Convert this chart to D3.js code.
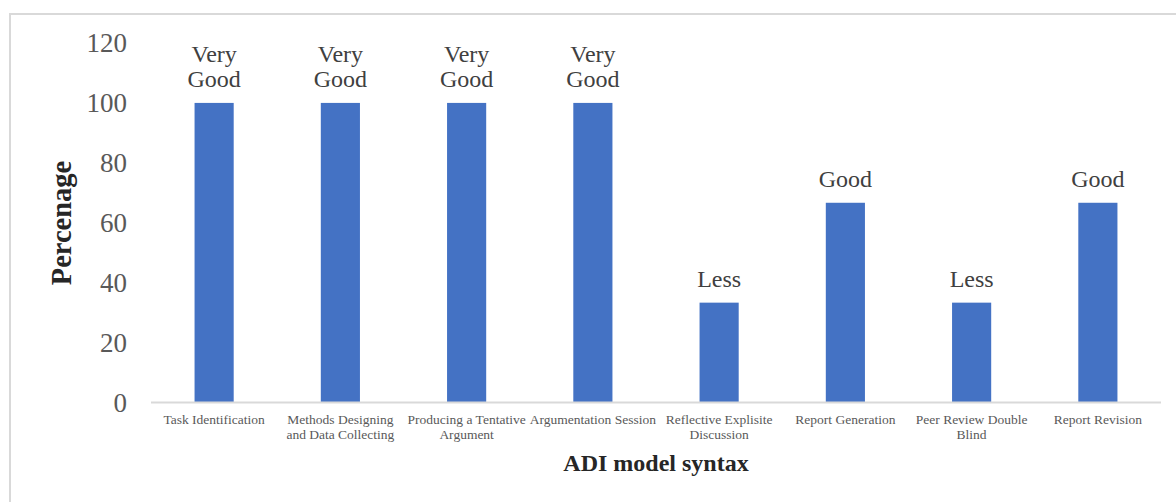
<!DOCTYPE html>
<html lang="en">
<head>
  <meta charset="UTF-8">
  <script src="https://d3js.org/d3.v7.min.js"></script>
  <style>
    body { margin: 0; background: white; }
    svg text { font-family: 'Liberation Serif', 'Times New Roman', serif; }
  </style>
</head>
<body>
  <svg id="chart" width="1176" height="502"></svg>
  <script>
    // data
    const categories = ["Task Identification", "Methods Designing\nand Data Collecting",
      "Producing a Tentative\nArgument", "Argumentation Session", "Reflective Explisite\nDiscussion",
      "Report Generation", "Peer Review Double\nBlind", "Report Revision"];
    const values = [100, 100, 100, 100, 33.33, 66.67, 33.33, 66.67];
    const ratings = ["Very\nGood", "Very\nGood", "Very\nGood", "Very\nGood", "Less", "Good", "Less", "Good"];
    const yTicks = [0, 20, 40, 60, 80, 100, 120];

    const svg = d3.select("#chart");
    const margin = { top: 43, right: 15, bottom: 99.5, left: 151 };
    const width = 1176 - margin.left - margin.right;
    const height = 502 - margin.top - margin.bottom;

    // outer frame
    svg.append("rect")
      .attr("x", 10).attr("y", 14)
      .attr("width", 1170).attr("height", 500)
      .attr("fill", "none")
      .attr("stroke", "#d9d9d9")
      .attr("stroke-width", 2);

    const g = svg.append("g")
      .attr("transform", "translate(" + margin.left + "," + margin.top + ")");

    const x = d3.scaleBand()
      .domain(categories)
      .range([0, width])
      .paddingInner(0.69)
      .paddingOuter(0.345);

    const y = d3.scaleLinear()
      .domain([0, 120])
      .range([height, 0]);

    // y tick labels
    g.selectAll("text.ytick").data(yTicks)
      .join("text")
      .attr("class", "ytick")
      .attr("x", -24)
      .attr("y", d => y(d))
      .attr("dy", "0.35em")
      .attr("text-anchor", "end")
      .style("font-size", "27px")
      .style("fill", "#595959")
      .text(d => d);

    // bars
    g.selectAll("rect.bar").data(values)
      .join("rect")
      .attr("class", "bar")
      .attr("x", (d, i) => x(categories[i]))
      .attr("y", d => y(d))
      .attr("width", x.bandwidth())
      .attr("height", d => height - y(d))
      .attr("fill", "#4472c4");

    // baseline
    g.append("line")
      .attr("x1", 0).attr("x2", width)
      .attr("y1", height).attr("y2", height)
      .attr("stroke", "#d9d9d9")
      .attr("stroke-width", 2);

    // data labels
    values.forEach((v, i) => {
      const lines = ratings[i].split("\n");
      const cx = x(categories[i]) + x.bandwidth() / 2;
      lines.forEach((t, j) => {
        g.append("text")
          .attr("x", cx)
          .attr("y", y(v) - 16 - (lines.length - 1 - j) * 25)
          .attr("text-anchor", "middle")
          .style("font-size", "24px")
          .style("fill", "#404040")
          .text(t);
      });
    });

    // category labels
    categories.forEach((c, i) => {
      const cx = x(c) + x.bandwidth() / 2;
      c.split("\n").forEach((t, j) => {
        g.append("text")
          .attr("x", cx)
          .attr("y", height + 21 + j * 15)
          .attr("text-anchor", "middle")
          .style("font-size", "13.5px")
          .style("fill", "#595959")
          .text(t);
      });
    });

    // axis titles
    svg.append("text")
      .attr("x", 656)
      .attr("y", 471)
      .attr("text-anchor", "middle")
      .style("font-size", "24px")
      .style("font-weight", "bold")
      .style("fill", "#262626")
      .text("ADI model syntax");

    svg.append("text")
      .attr("transform", "translate(71,223) rotate(-90)")
      .attr("text-anchor", "middle")
      .style("font-size", "28.5px")
      .style("font-weight", "bold")
      .style("fill", "#262626")
      .text("Percenage");
  </script>
</body>
</html>
